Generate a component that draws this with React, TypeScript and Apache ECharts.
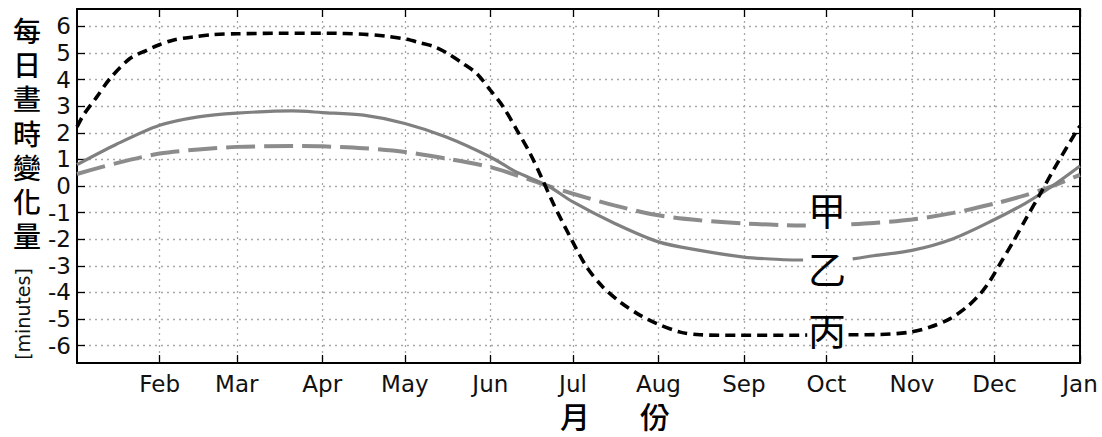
import React, { useEffect, useRef } from "react";
import * as echarts from "echarts";

// x positions are day-of-year (Jan 1 = 0)
const monthDays = [31, 59, 90, 120, 151, 181, 212, 243, 273, 304, 334, 365];
const monthLabels = ["Feb", "Mar", "Apr", "May", "Jun", "Jul", "Aug", "Sep", "Oct", "Nov", "Dec", "Jan"];
const yTicks = [-6, -5, -4, -3, -2, -1, 0, 1, 2, 3, 4, 5, 6];

// 甲 (dashed grey)
const jiaDays = [1, 15, 31, 45, 59, 79, 90, 105, 120, 135, 151, 160, 172, 181, 196, 212, 227, 243, 258, 265.5, 274, 282, 290, 304, 319, 334, 345, 355, 365];
const jiaVals = [0.45, 0.85, 1.22, 1.37, 1.47, 1.5, 1.49, 1.42, 1.28, 1.03, 0.71, 0.42, 0.0, -0.29, -0.73, -1.1, -1.29, -1.41, -1.47, -1.48, null, -1.44, -1.39, -1.26, -1.01, -0.66, -0.35, 0.0, 0.42];

// 乙 (solid grey)
const yiDays = [1, 15, 31, 45, 59, 79, 90, 105, 120, 135, 151, 160, 172, 181, 196, 212, 227, 243, 258, 264.5, 274, 282.5, 290, 304, 319, 334, 345, 355, 365];
const yiVals = [0.8, 1.55, 2.28, 2.6, 2.74, 2.82, 2.76, 2.66, 2.35, 1.84, 1.09, 0.55, 0.0, -0.6, -1.4, -2.1, -2.42, -2.67, -2.77, -2.78, null, -2.74, -2.62, -2.42, -1.98, -1.26, -0.66, 0.0, 0.75];

// 丙 (dotted black)
const bingDays = [1, 3.3, 8.2, 13, 20.2, 26.3, 30.4, 35.8, 43.1, 50.4, 59.4, 75, 92, 105, 113, 120.7, 125.5, 130.2, 135.2, 141.1, 146.1, 151, 155.7, 160.7, 165.4, 169.5, 173.8, 180, 186, 191.9, 198.1, 205.4, 211.4, 219.9, 227.1, 241.7, 259.8, 266, 274, 281, 292.5, 303.4, 310.6, 317.9, 323.9, 328.8, 332.4, 336, 340.7, 345.7, 350.6, 355.3, 363.9, 365];
const bingVals = [2.22, 2.66, 3.35, 4.04, 4.79, 5.1, 5.29, 5.48, 5.6, 5.69, 5.72, 5.74, 5.74, 5.7, 5.63, 5.51, 5.38, 5.25, 5.0, 4.6, 4.22, 3.6, 2.97, 2.09, 1.23, 0.34, -0.65, -1.92, -3.05, -3.8, -4.36, -4.86, -5.17, -5.49, -5.59, -5.61, -5.61, -5.6, null, -5.59, -5.58, -5.49, -5.3, -4.98, -4.55, -4.05, -3.55, -2.92, -2.1, -1.17, -0.29, 0.59, 2.09, 2.25];

// label anchors (day, value)
const labelNames = ["甲", "乙", "丙"];
const labelPos = [[273.2, -0.86], [273.2, -3.08], [273.2, -5.34]];

// y-axis title characters (stacked vertically)
const yTitleChars = ["每", "日", "晝", "時", "變", "化", "量"];

const zip = (xs: number[], ys: (number | null)[]) => xs.map((x, i) => [x, ys[i] === null ? "-" : ys[i]]);

const sansFont = "DejaVu Sans";
const cjkFont = "Noto Sans CJK TC";

function makeMark(i: number) {
  return {
    silent: true,
    symbol: "circle",
    symbolSize: 1,
    itemStyle: { color: "rgba(0,0,0,0)" },
    label: {
      show: true,
      position: "inside",
      formatter: labelNames[i],
      fontSize: 38,
      lineHeight: 40,
      fontFamily: cjkFont,
      color: "#000",
    },
    data: [{ coord: labelPos[i] }],
  };
}

export default function App() {
  const ref = useRef<HTMLDivElement>(null);
  useEffect(() => {
    if (!ref.current) return;
    const chart = echarts.init(ref.current, undefined, { renderer: "svg" });
    const gridLine = { show: true, lineStyle: { color: "#a8a8a8", width: 1.3, type: [2, 4] } };
    const frameLine = { show: true, onZero: false, lineStyle: { color: "#000", width: 2 } };
    const tick = { show: true, inside: true, length: 8, lineStyle: { color: "#000", width: 1.3 } };
    const yTitle = yTitleChars.map((c, i) => ({
      type: "text",
      x: 27,
      y: 30 + i * 34.2,
      style: {
        text: c,
        fontSize: 28,
        lineHeight: 33,
        fontFamily: cjkFont,
        fontWeight: 500,
        fill: "#000",
        textAlign: "center",
        textVerticalAlign: "middle",
      },
    }));
    chart.setOption({
      animation: false,
      backgroundColor: "#fff",
      grid: { left: 77, right: 22, top: 9, bottom: 74, containLabel: false },
      xAxis: [
        {
          type: "value",
          min: 1,
          max: 365,
          position: "bottom",
          axisLine: frameLine,
          axisTick: { ...tick, customValues: monthDays },
          axisLabel: {
            customValues: monthDays,
            formatter: (v: number) => monthLabels[monthDays.indexOf(v)] ?? "",
            fontSize: 23,
            fontFamily: sansFont,
            color: "#111",
            margin: 9,
          },
          splitLine: gridLine,
        },
        {
          type: "value",
          min: 1,
          max: 365,
          position: "top",
          axisLine: frameLine,
          axisTick: { ...tick, customValues: monthDays },
          axisLabel: { show: false },
          splitLine: { show: false },
        },
      ],
      yAxis: [
        {
          type: "value",
          min: -6.65,
          max: 6.65,
          position: "left",
          axisLine: frameLine,
          axisTick: { ...tick, customValues: yTicks },
          axisLabel: {
            customValues: yTicks,
            formatter: (v: number) => String(v),
            fontSize: 23,
            fontFamily: sansFont,
            color: "#111",
            margin: 6,
          },
          splitLine: gridLine,
        },
        {
          type: "value",
          min: -6.65,
          max: 6.65,
          position: "right",
          axisLine: frameLine,
          axisTick: { ...tick, customValues: yTicks },
          axisLabel: { show: false },
          splitLine: { show: false },
        },
      ],
      series: [
        {
          name: "甲",
          type: "line",
          xAxisIndex: 0,
          yAxisIndex: 0,
          data: zip(jiaDays, jiaVals),
          showSymbol: false,
          symbol: "none",
          smooth: 0.3,
          connectNulls: false,
          lineStyle: { color: "#8c8c8c", width: 4, type: [29, 9] },
          markPoint: makeMark(0),
          z: 2,
        },
        {
          name: "乙",
          type: "line",
          xAxisIndex: 0,
          yAxisIndex: 0,
          data: zip(yiDays, yiVals),
          showSymbol: false,
          symbol: "none",
          smooth: 0.3,
          connectNulls: false,
          lineStyle: { color: "#808080", width: 3.2, type: "solid" },
          markPoint: makeMark(1),
          z: 3,
        },
        {
          name: "丙",
          type: "line",
          xAxisIndex: 0,
          yAxisIndex: 0,
          data: zip(bingDays, bingVals),
          showSymbol: false,
          symbol: "none",
          smooth: 0.3,
          connectNulls: false,
          lineStyle: { color: "#000", width: 3.6, type: [10, 6] },
          markPoint: makeMark(2),
          z: 4,
        },
      ],
      graphic: [
        ...yTitle,
        {
          type: "text",
          x: 23,
          y: 314,
          rotation: Math.PI / 2,
          style: {
            text: "[minutes]",
            fontSize: 19,
            fontFamily: sansFont,
            fill: "#111",
            textAlign: "center",
            textVerticalAlign: "middle",
          },
        },
        {
          type: "text",
          x: 575,
          y: 415,
          style: { text: "月", fontSize: 30, lineHeight: 31, fontFamily: cjkFont, fontWeight: 500, fill: "#000", textAlign: "center", textVerticalAlign: "middle" },
        },
        {
          type: "text",
          x: 655,
          y: 415,
          style: { text: "份", fontSize: 30, lineHeight: 31, fontFamily: cjkFont, fontWeight: 500, fill: "#000", textAlign: "center", textVerticalAlign: "middle" },
        },
      ],
    });
    return () => chart.dispose();
  }, []);
  return <div ref={ref} style={{ position: "fixed", left: 0, top: 0, width: 1102, height: 437 }} />;
}
